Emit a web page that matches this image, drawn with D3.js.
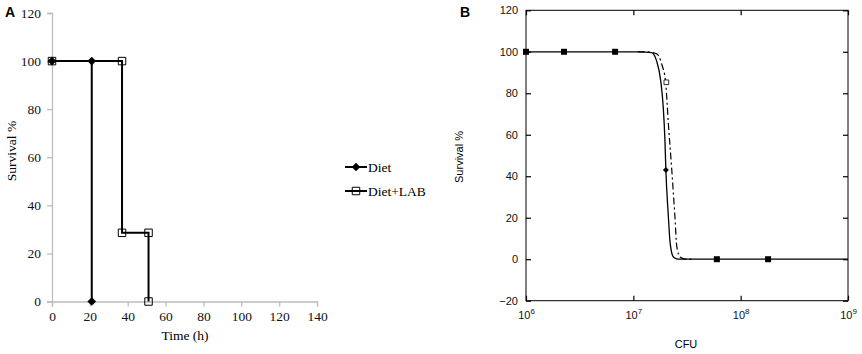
<!DOCTYPE html>
<html><head><meta charset="utf-8">
<script src="https://cdn.jsdelivr.net/npm/d3@7"></script>
<style>body{margin:0;background:#fff}svg{display:block}</style>
</head><body>
<svg id="c" width="862" height="354"></svg>
<script>
// ---- Panel A data ----
const timeTicks = [0,20,40,60,80,100,120,140];
const survTicksA = [0,20,40,60,80,100,120];
const dietTime = [0,21,21];
const dietSurv = [100,100,0];
const labTime = [0,37,37,51,51];
const labSurv = [100,100,28.57,28.57,0];
const legendLabels = ["Diet","Diet+LAB"];

// ---- Panel B data ----
const cfuTicks = [1e6,1e7,1e8,1e9];
const cfuExp = ["6","7","8","9"];
const survTicksB = [-20,0,20,40,60,80,100,120];
const ptsSquareCfu = [1e6,2.26e6,6.76e6,6.0e7,1.8e8];
const ptsSquareSurv = [100,100,100,0,0];
const ptDietCfu = [2.01e7];
const ptDietSurv = [43];
const ptLabCfu = [2.03e7];
const ptLabSurv = [85.3];
const fitDietCfu = [1e6,1.15e7,1.48e7,1.65e7,1.80e7,1.90e7,1.97e7,2.01e7,2.12e7,2.20e7,2.36e7,2.61e7,3.2e7,1e9];
const fitDietSurv = [100,100,99.6,95.5,86,73.2,57.3,42.9,20.6,8,1.1,0,0,0];
const fitLabCfu = [1.1e7,1.29e7,1.65e7,1.84e7,2.00e7,2.12e7,2.27e7,2.44e7,2.54e7,2.72e7,3.1e7,3.6e7];
const fitLabSurv = [100,100,99,94,85.2,65.4,44.5,20.6,6.2,1.1,0,0];

const svg = d3.select("#c");
const serif = "'Liberation Serif', 'DejaVu Serif', serif";
const sans = "'Liberation Sans', Arial, sans-serif";

// ================= Panel A =================
const xA = d3.scaleLinear().domain([0,140]).range([52,317]);
const yA = d3.scaleLinear().domain([0,120]).range([301.5,13]);
const gA = svg.append("g");

const axA = gA.append("g").attr("transform","translate(52,0)")
  .call(d3.axisLeft(yA).tickValues(survTicksA).tickSize(5).tickPadding(6));
const axAx = gA.append("g").attr("transform","translate(0,301.5)")
  .call(d3.axisBottom(xA).tickValues(timeTicks).tickSize(5).tickPadding(5));
[axA,axAx].forEach(a=>{
  a.selectAll("path,line").attr("stroke","#bdbdbd").attr("stroke-width",1.3);
  a.selectAll("text").attr("font-family",serif).attr("font-size",13.5).attr("fill","#111");
});

gA.append("text").attr("x",185).attr("y",340).attr("text-anchor","middle")
  .attr("font-family",serif).attr("font-size",13.5).text("Time (h)");
gA.append("text").attr("transform","translate(16,151) rotate(-90)").attr("text-anchor","middle")
  .attr("font-family",serif).attr("font-size",13.5).text("Survival %");
svg.append("text").attr("x",5).attr("y",17).attr("font-family",sans).attr("font-weight","bold")
  .attr("font-size",14).text("A");

const lineA = d3.line().x(d=>xA(d[0])).y(d=>yA(d[1]));
const dietA = dietTime.map((t,i)=>[t,dietSurv[i]]);
const labA = labTime.map((t,i)=>[t,labSurv[i]]);
gA.append("path").attr("d",lineA(labA)).attr("fill","none").attr("stroke","#000").attr("stroke-width",2);
gA.append("path").attr("d",lineA(dietA)).attr("fill","none").attr("stroke","#000").attr("stroke-width",2);
const sq = d3.symbol().type(d3.symbolSquare).size(56);
const dm = d3.symbol().type(d3.symbolSquare).size(38);
gA.selectAll(".lsq").data(labA).join("path").attr("d",sq)
  .attr("transform",d=>`translate(${xA(d[0])},${yA(d[1])})`)
  .attr("fill","none").attr("stroke","#000").attr("stroke-width",1);
gA.selectAll(".dm").data(dietA).join("path").attr("d",dm)
  .attr("transform",d=>`translate(${xA(d[0])},${yA(d[1])}) rotate(45)`).attr("fill","#000");

// legend
const leg = gA.append("g");
legendLabels.forEach((lab,i)=>{
  const y = 167 + i*24;
  leg.append("line").attr("x1",345).attr("x2",367).attr("y1",y).attr("y2",y).attr("stroke","#000").attr("stroke-width",2);
  if(i===0) leg.append("path").attr("d",dm).attr("transform",`translate(356,${y}) rotate(45)`).attr("fill","#000");
  else leg.append("path").attr("d",sq).attr("transform",`translate(356,${y})`).attr("fill","none").attr("stroke","#000");
  leg.append("text").attr("x",368).attr("y",y+4.5).attr("font-family",serif).attr("font-size",13.5).text(lab);
});

// ================= Panel B =================
const xB = d3.scaleLog().domain([1e6,1e9]).range([526,848]);
const yB = d3.scaleLinear().domain([-20,120]).range([300.7,10.3]);
const gB = svg.append("g");
gB.append("rect").attr("x",526).attr("y",10.3).attr("width",322).attr("height",290.4)
  .attr("fill","none").attr("stroke","#000").attr("stroke-width",1);

const bl = gB.append("g").attr("transform","translate(526,0)")
  .call(d3.axisLeft(yB).tickValues(survTicksB).tickSizeInner(-5).tickSizeOuter(0).tickPadding(8));
const br = gB.append("g").attr("transform","translate(848,0)")
  .call(d3.axisRight(yB).tickValues(survTicksB).tickSizeInner(-5).tickSizeOuter(0).tickFormat(""));
const bb = gB.append("g").attr("transform","translate(0,300.7)")
  .call(d3.axisBottom(xB).tickValues(cfuTicks).tickSizeInner(-5).tickSizeOuter(0).tickPadding(9).tickFormat(""));
const bt = gB.append("g").attr("transform","translate(0,10.3)")
  .call(d3.axisTop(xB).tickValues(cfuTicks).tickSizeInner(-5).tickSizeOuter(0).tickFormat(""));
[bl,br,bb,bt].forEach(a=>{
  a.select(".domain").remove();
  a.selectAll("line").attr("stroke","#000").attr("stroke-width",1.2);
  a.selectAll("text").attr("font-family",sans).attr("font-size",11).attr("fill","#111");
});
bb.selectAll(".tick").each(function(d,i){
  const t = d3.select(this).append("text").attr("y",18).attr("text-anchor","middle")
    .attr("font-family",sans).attr("font-size",11).attr("fill","#111");
  t.append("tspan").text("10");
  t.append("tspan").attr("dy",-5).attr("font-size",8).text(cfuExp[i]);
});
gB.append("text").attr("x",686).attr("y",348).attr("text-anchor","middle")
  .attr("font-family",sans).attr("font-size",11).text("CFU");
gB.append("text").attr("transform","translate(463,157) rotate(-90)").attr("text-anchor","middle")
  .attr("font-family",sans).attr("font-size",11).text("Survival %");
svg.append("text").attr("x",460).attr("y",17).attr("font-family",sans).attr("font-weight","bold")
  .attr("font-size",14).text("B");

const lineB = d3.line().x(d=>xB(d[0])).y(d=>yB(d[1])).curve(d3.curveMonotoneX);
const fitDiet = fitDietCfu.map((c,i)=>[c,fitDietSurv[i]]);
const fitLab = fitLabCfu.map((c,i)=>[c,fitLabSurv[i]]);
gB.append("path").attr("d",lineB(fitLab)).attr("fill","none").attr("stroke","#000")
  .attr("stroke-width",1.2).attr("stroke-dasharray","7,3,2,3");
gB.append("path").attr("d",lineB(fitDiet)).attr("fill","none").attr("stroke","#000").attr("stroke-width",1.3);

const sqB = d3.symbol().type(d3.symbolSquare).size(36);
gB.selectAll(".bsq").data(ptsSquareCfu.map((c,i)=>[c,ptsSquareSurv[i]])).join("path").attr("d",sqB)
  .attr("transform",d=>`translate(${xB(d[0])},${yB(d[1])})`).attr("fill","#000");
gB.selectAll(".bdm").data(ptDietCfu.map((c,i)=>[c,ptDietSurv[i]])).join("path")
  .attr("d",d3.symbol().type(d3.symbolSquare).size(18))
  .attr("transform",d=>`translate(${xB(d[0])},${yB(d[1])}) rotate(45)`).attr("fill","#000");
gB.selectAll(".blab").data(ptLabCfu.map((c,i)=>[c,ptLabSurv[i]])).join("path")
  .attr("d",d3.symbol().type(d3.symbolSquare).size(22))
  .attr("transform",d=>`translate(${xB(d[0])},${yB(d[1])})`).attr("fill","#fff").attr("stroke","#000").attr("stroke-width",0.8);
</script>
</body></html>
